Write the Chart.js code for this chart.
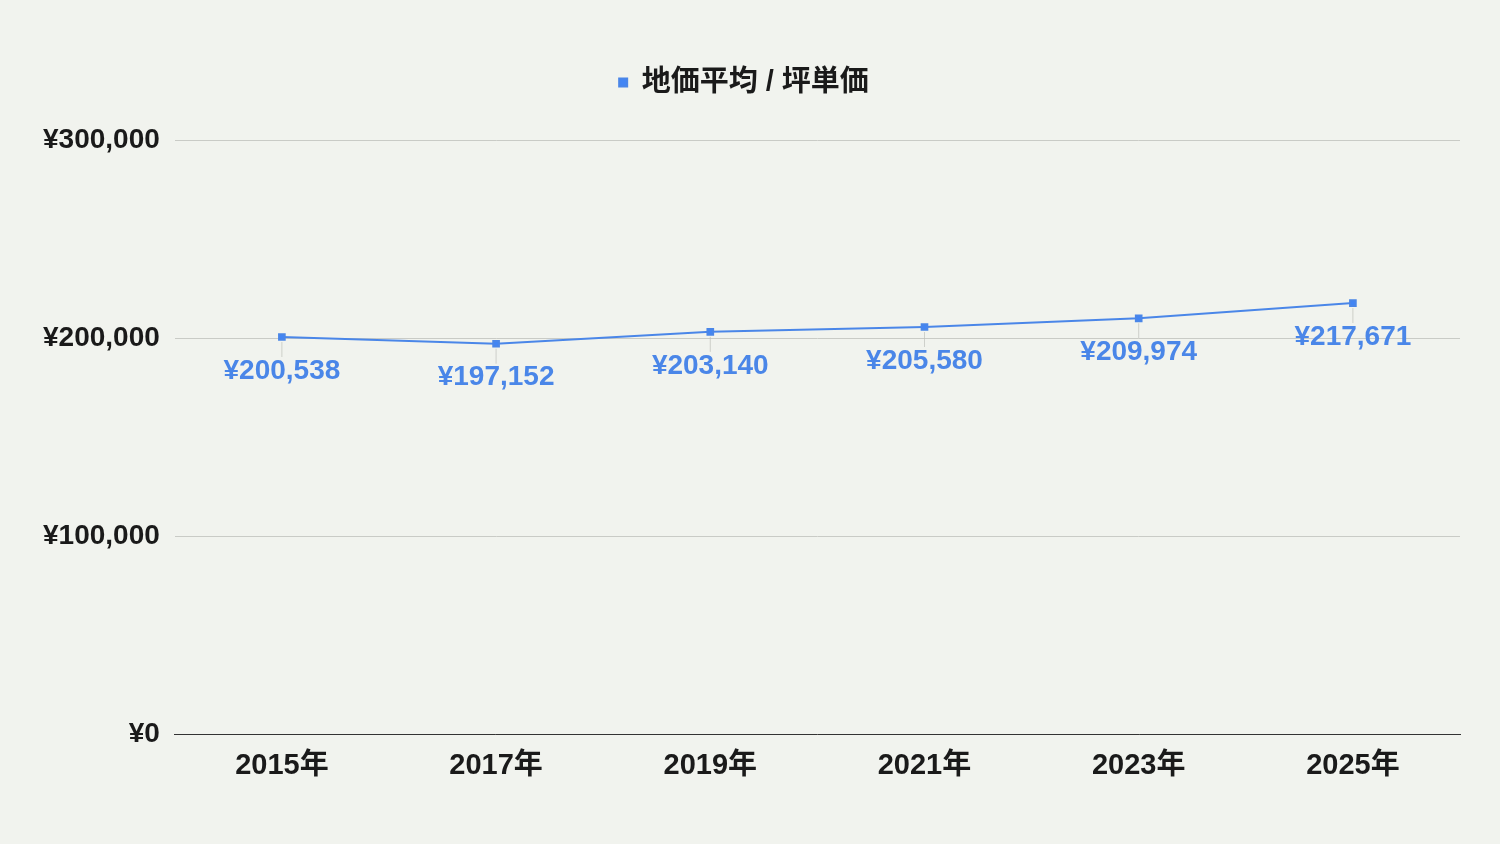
<!DOCTYPE html>
<html>
<head>
<meta charset="utf-8">
<script src="https://cdn.jsdelivr.net/npm/chart.js@4.4.0/dist/chart.umd.min.js"></script>
<style>
html,body{margin:0;padding:0;background:#f1f3ee;}
#wrap{width:1500px;height:844px;}
</style>
</head>
<body>
<div id="wrap"><canvas id="c" width="1500" height="844"></canvas></div>
<script>
const categories = ["2015年","2017年","2019年","2021年","2023年","2025年"];
const seriesName = "地価平均 / 坪単価";
const values = [200538, 197152, 203140, 205580, 209974, 217671];
const yTicks = [0, 100000, 200000, 300000];

const FONT = "'Liberation Sans', Arial, 'Noto Sans CJK JP', sans-serif";
const fmt = v => "¥" + v.toLocaleString("en-US");

const labelPlugin = {
  id: "pointLabels",
  afterDatasetsDraw(chart) {
    const ctx = chart.ctx;
    const meta = chart.getDatasetMeta(0);
    ctx.save();
    meta.data.forEach((pt, i) => {
      const x = pt.x, y = pt.y;
      ctx.strokeStyle = "rgba(190,192,186,0.7)";
      ctx.lineWidth = 1;
      ctx.beginPath();
      ctx.moveTo(x, y + 5);
      ctx.lineTo(x, y + 20);
      ctx.stroke();
      ctx.fillStyle = "#4a86e8";
      ctx.font = "bold 28px " + FONT;
      ctx.textAlign = "center";
      ctx.textBaseline = "middle";
      ctx.fillText(fmt(values[i]), x, y + 34);
    });
    ctx.restore();
  }
};

const legendMargin = {
  id: "legendMargin",
  beforeInit(chart) {
    const orig = chart.legend.fit;
    chart.legend.fit = function () {
      orig.call(this);
      this.height += 33;
    };
  }
};

new Chart(document.getElementById("c"), {
  type: "line",
  data: {
    labels: categories,
    datasets: [{
      label: seriesName,
      data: values,
      borderColor: "#4a86e8",
      backgroundColor: "#4285f4",
      borderWidth: 2,
      pointStyle: "rect",
      pointRadius: 4,
      pointHoverRadius: 4,
      tension: 0
    }]
  },
  options: {
    responsive: false,
    animation: false,
    layout: { padding: { left: 28, right: 40, top: 28, bottom: 47 } },
    plugins: {
      legend: {
        position: "top",
        labels: {
          usePointStyle: true,
          pointStyle: "rect",
          boxWidth: 8,
          boxHeight: 8,
          color: "#1a1a1a",
          font: { family: FONT, size: 29, weight: "bold" },
          padding: 40
        }
      },
      tooltip: { enabled: false }
    },
    scales: {
      x: {
        offset: true,
        grid: { display: false, drawTicks: false },
        border: { display: true, color: "#333", width: 1 },
        ticks: {
          color: "#1a1a1a",
          font: { family: FONT, size: 29, weight: "bold" },
          padding: 14
        }
      },
      y: {
        min: 0,
        max: 300000,
        afterBuildTicks(axis) { axis.ticks = yTicks.map(v => ({ value: v })); },
        grid: { color: "#c9cbc6", drawTicks: false, lineWidth: 1 },
        border: { display: false },
        ticks: {
          color: "#1a1a1a",
          font: { family: FONT, size: 28, weight: "bold" },
          padding: 15,
          callback: v => fmt(v)
        }
      }
    }
  },
  plugins: [labelPlugin, legendMargin]
});
</script>
</body>
</html>
